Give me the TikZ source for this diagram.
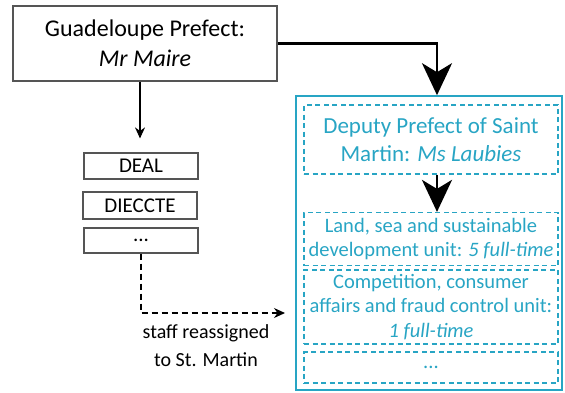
\documentclass[tikz,border=0pt]{standalone}
\usepackage{fontspec}
\setmainfont{Carlito}
\usetikzlibrary{arrows.meta}
\definecolor{stmcyan}{RGB}{40,165,196}
\definecolor{boxgray}{RGB}{85,85,85}

\begin{document}
\begin{tikzpicture}[
    x=1pt, y=-1pt,
    prefbox/.style={
        rectangle,
        draw=boxgray,
        line width=1.5pt,
        inner sep=0pt,
        align=center
    },
    svcbox/.style={
        rectangle,
        draw=boxgray,
        line width=1.2pt,
        minimum width=114pt,
        inner sep=0pt,
        font=\fontsize{21}{24}\selectfont
    },
    unitbox/.style={
        rectangle,
        draw=stmcyan,
        line width=1.2pt,
        dash pattern=on 5pt off 3.5pt,
        minimum width=254pt,
        inner sep=0pt,
        align=center,
        text=stmcyan,
        font=\fontsize{20.5}{24.5}\selectfont
    },
    bigarrow/.style={
        -{Stealth[length=32pt,width=30pt,inset=9pt]},
        line width=2.5pt
    },
    thinarrow/.style={
        -{Stealth[length=11pt,width=10pt]},
        line width=1.2pt
    }
]
\useasboundingbox (0,0) rectangle (565,392);

% Guadeloupe side
\node[prefbox, minimum width=264pt, minimum height=75pt,
      font=\fontsize{24}{30}\selectfont] (prefect) at (145,43.5)
     {Guadeloupe Prefect:\\\textit{Mr Maire}};

\node[svcbox, minimum height=26pt] (deal) at (141,166) {DEAL};
\node[svcbox, minimum height=27pt] (dieccte) at (140,205.5) {DIECCTE};
\node[svcbox, minimum height=25pt] (othersvc) at (141,240.5) {...};

% Saint Martin side
\node[rectangle, draw=stmcyan, line width=1.6pt, minimum width=266pt,
      minimum height=294pt, inner sep=0pt] (stmbox) at (429,243) {};

\node[unitbox, minimum height=69pt, font=\fontsize{23}{28}\selectfont] (deputy) at (431,139.5)
     {Deputy Prefect of Saint\\Martin: \textit{Ms Laubies}};
\node[unitbox, minimum height=53pt] (landunit) at (431,239)
     {Land, sea and sustainable\\development unit: \textit{5 full-time}};
\node[unitbox, minimum height=74pt] (fraudunit) at (431,307)
     {Competition, consumer\\affairs and fraud control unit:\\\textit{1 full-time}};
\node[unitbox, minimum height=31pt] (otherunit) at (431,367.5) {...};

% Hierarchy arrows
\draw[bigarrow] (prefect.east) -| ([xshift=8pt]stmbox.north);
\draw[bigarrow] ([xshift=6pt]deputy.south) -- ([xshift=6pt]landunit.north);
\draw[thinarrow, shorten >=14pt] ([xshift=-5pt]prefect.south) -- ([xshift=-1pt]deal.north);

% Staff transfer
\coordinate (reassign) at (285,313);
\draw[thinarrow, dash pattern=on 6pt off 4pt] (othersvc.south) |- (reassign);
\node[align=center, font=\fontsize{20}{28}\selectfont] (reassignlbl) at (206,346)
     {staff reassigned\\to St. Martin};

\end{tikzpicture}
\end{document}
